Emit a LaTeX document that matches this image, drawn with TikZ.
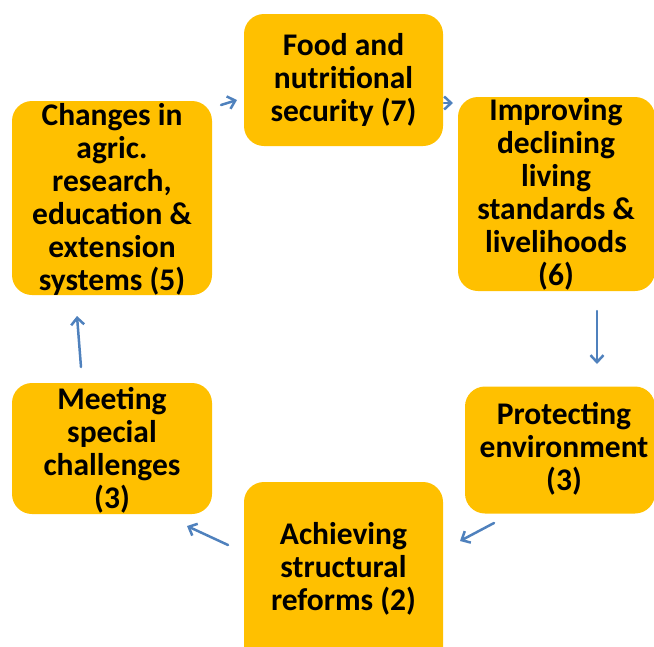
\documentclass[tikz,border=0pt]{standalone}
\usepackage{fontspec}
\setmainfont{Carlito}
\usetikzlibrary{arrows.meta}
\definecolor{boxfill}{HTML}{FFC000}
\definecolor{arrowblue}{HTML}{4F81BD}
\begin{document}
\begin{tikzpicture}[x=1pt,y=-1pt,
  cyclebox/.style={draw=none, fill=boxfill, rounded corners=20pt, inner sep=0pt,
    font=\fontsize{31.5}{33}\selectfont\bfseries, align=center},
  flow/.style={draw=arrowblue, line width=2.5pt, line cap=round,
    -{Straight Barb[length=7pt,width=13pt,line width=2.5pt]}}]
\useasboundingbox (0,0) rectangle (654,646);
\clip (0,0) rectangle (654,646);
% boxes
\node[cyclebox, minimum width=199pt, minimum height=132pt] (food) at (343.5,80) {};
\node[cyclebox, minimum width=200pt, minimum height=194pt] (changes) at (112,198) {};
\node[cyclebox, minimum width=197pt, minimum height=194pt] (improving) at (556.5,194) {};
\node[cyclebox, minimum width=200pt, minimum height=131pt] (meeting) at (112,448.5) {};
\node[cyclebox, minimum width=190pt, minimum height=127pt] (protecting) at (560,450) {};
\node[cyclebox, minimum width=199pt, minimum height=190pt] (achieving) at (343.5,577) {};
% texts
\node[cyclebox, fill=none] (foodt) at (343.5,80) {Food and\\nutritional\\security (7)};
\node[cyclebox, fill=none] (changest) at (112,199) {Changes in\\agric.\\research,\\education \&\\extension\\systems (5)};
\node[cyclebox, fill=none] (improvingt) at (556,194.5) {Improving\\declining\\living\\standards \&\\livelihoods\\(6)};
\node[cyclebox, fill=none] (protectingt) at (564,449) {Protecting\\environment\\(3)};
\node[cyclebox, fill=none] (meetingt) at (112,450) {Meeting\\special\\challenges\\(3)};
\node[cyclebox, fill=none] (achievingt) at (343.5,569) {Achieving\\structural\\reforms (2)};
% arrow end points
\coordinate (a1s) at (221,105); \coordinate (a1e) at (237,100);
\coordinate (a2s) at (444,103); \coordinate (a2e) at (453,103);
\coordinate (a3s) at (597,311); \coordinate (a3e) at (597,364);
\coordinate (a4s) at (494,523); \coordinate (a4e) at (460,541);
\coordinate (a5s) at (228,545); \coordinate (a5e) at (187,526);
\coordinate (a6s) at (81,367); \coordinate (a6e) at (77,316);
\draw[flow] (a1s) -- (a1e);
\draw[flow] (a2s) -- (a2e);
\draw[flow] (a3s) -- (a3e);
\draw[flow] (a4s) -- (a4e);
\draw[flow] (a5s) -- (a5e);
\draw[flow] (a6s) -- (a6e);
\end{tikzpicture}
\end{document}
